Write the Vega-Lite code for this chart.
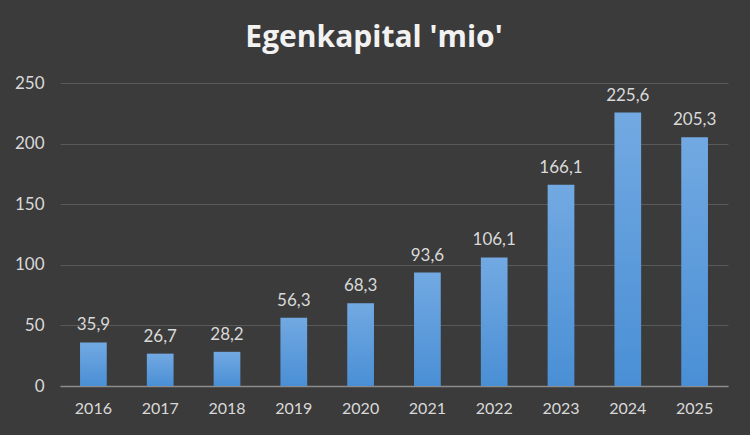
{
  "$schema": "https://vega.github.io/schema/vega-lite/v6.json",
  "width": 668,
  "height": 303,
  "autosize": {"type": "none"},
  "padding": {"left": 60, "top": 83, "right": 22, "bottom": 49},
  "background": "#3b3b3b",
  "title": {
    "text": "Egenkapital 'mio'",
    "font": "Open Sans",
    "fontSize": 30,
    "fontWeight": "bold",
    "color": "#f2f2f2",
    "anchor": "middle",
    "dx": -20,
    "offset": 21
  },
  "data": {
    "values": [
      {"year": "2016", "value": 35.9, "label": "35,9"},
      {"year": "2017", "value": 26.7, "label": "26,7"},
      {"year": "2018", "value": 28.2, "label": "28,2"},
      {"year": "2019", "value": 56.3, "label": "56,3"},
      {"year": "2020", "value": 68.3, "label": "68,3"},
      {"year": "2021", "value": 93.6, "label": "93,6"},
      {"year": "2022", "value": 106.1, "label": "106,1"},
      {"year": "2023", "value": 166.1, "label": "166,1"},
      {"year": "2024", "value": 225.6, "label": "225,6"},
      {"year": "2025", "value": 205.3, "label": "205,3"}
    ]
  },
  "encoding": {
    "x": {
      "field": "year",
      "type": "nominal",
      "sort": null,
      "scale": {"paddingInner": 0.6, "paddingOuter": 0.3},
      "axis": {
        "title": null,
        "labelAngle": 0,
        "labelFont": "Lato",
        "labelFontSize": 16,
        "labelColor": "#d9d9d9",
        "labelPadding": 14,
        "ticks": false,
        "domainColor": "#8c8c8c",
        "domainWidth": 1.5,
        "grid": false
      }
    },
    "y": {
      "field": "value",
      "type": "quantitative",
      "scale": {"domain": [0, 250], "nice": false},
      "axis": {
        "title": null,
        "values": [0, 50, 100, 150, 200, 250],
        "labelFont": "Lato",
        "labelFontSize": 17,
        "labelColor": "#d9d9d9",
        "labelPadding": 16,
        "ticks": false,
        "domain": false,
        "gridColor": "#595959",
        "gridWidth": 1
      }
    }
  },
  "layer": [
    {
      "mark": {
        "type": "bar",
        "color": {
          "gradient": "linear",
          "x1": 0, "y1": 0, "x2": 0, "y2": 1,
          "stops": [
            {"offset": 0, "color": "#72a9e2"},
            {"offset": 1, "color": "#4a8fd5"}
          ]
        }
      }
    },
    {
      "mark": {
        "type": "text",
        "baseline": "bottom",
        "dy": -8,
        "font": "Lato",
        "fontSize": 17,
        "color": "#d9d9d9"
      },
      "encoding": {"text": {"field": "label"}}
    }
  ],
  "config": {
    "view": {"stroke": null}
  }
}
